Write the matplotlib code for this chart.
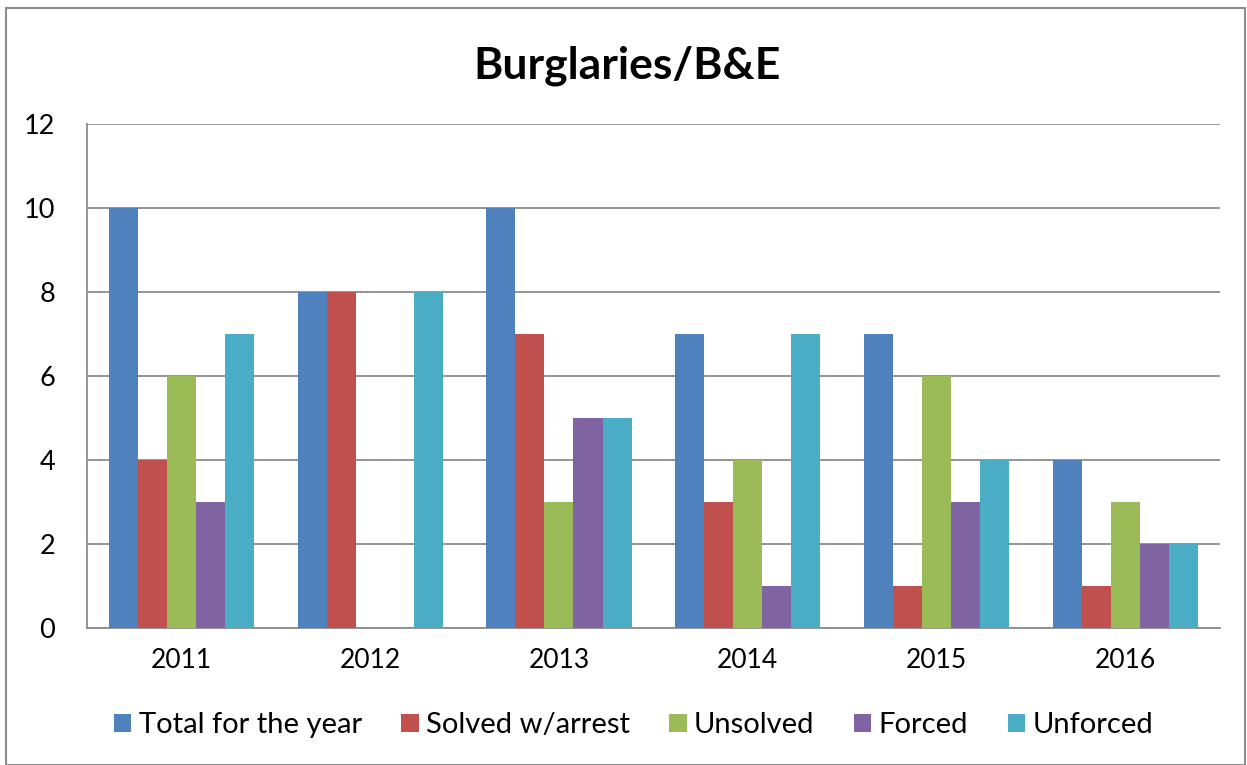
import numpy as np
import matplotlib.pyplot as plt
from matplotlib.patches import Rectangle

plt.rcParams['font.family'] = ['Lato', 'DejaVu Sans']

years = ['2011', '2012', '2013', '2014', '2015', '2016']
total = [10, 8, 10, 7, 7, 4]
solved = [4, 8, 7, 3, 1, 1]
unsolved = [6, 0, 3, 4, 6, 3]
forced = [3, 0, 5, 1, 3, 2]
unforced = [7, 8, 5, 7, 4, 2]

series = [
    ('Total for the year', total, '#4F81BD'),
    ('Solved w/arrest', solved, '#C0504D'),
    ('Unsolved', unsolved, '#9BBB59'),
    ('Forced', forced, '#8064A2'),
    ('Unforced', unforced, '#4BACC6'),
]

fig = plt.figure(figsize=(12.47, 7.65), dpi=100)
ax = fig.add_axes([0.0698, 0.179, 0.9082, 0.659])

x = np.arange(len(years))
w = 0.154
for i, (name, vals, col) in enumerate(series):
    ax.bar(x + (i - 2) * w, vals, w, color=col, label=name, zorder=3)

ax.set_xlim(-0.5, len(years) - 0.5)
ax.set_ylim(0, 12)
ax.set_yticks(range(0, 13, 2))
ax.set_xticks(x)
ax.set_xticklabels(years)
ax.yaxis.grid(True, color='#8c8c8c', linewidth=1.3, zorder=0)
ax.tick_params(axis='y', length=0, labelsize=19.5, pad=23)
ax.tick_params(axis='x', length=0, labelsize=19, pad=14)
for s in ['top', 'right']:
    ax.spines[s].set_visible(False)
for s in ['left', 'bottom']:
    ax.spines[s].set_color('#8c8c8c')
    ax.spines[s].set_linewidth(1.3)

fig.suptitle('Burglaries/B&E', x=0.503, y=0.94, fontsize=32, fontweight='bold')

fig.legend(loc='center', bbox_to_anchor=(0.508, 0.052), ncol=5, frameon=False,
           fontsize=21, handlelength=0.6, handleheight=0.6, handletextpad=0.25,
           columnspacing=1.35)

fig.patches.append(Rectangle((0.005, 0.0), 0.993, 0.99, transform=fig.transFigure,
                             fill=False, edgecolor='#8c8c8c', linewidth=1.5))

fig.savefig('out.png', dpi=100)
